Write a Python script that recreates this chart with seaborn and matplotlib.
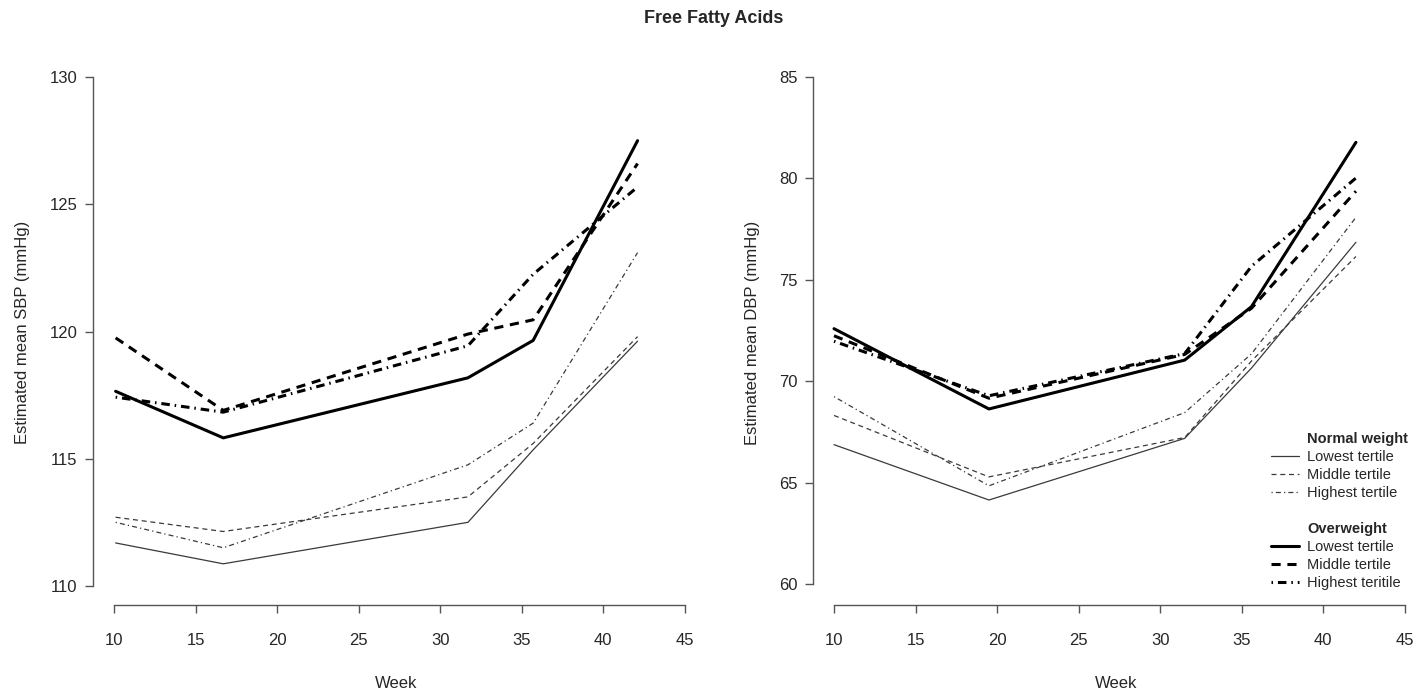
import numpy as np
import pandas as pd
import matplotlib
matplotlib.use("Agg")
import matplotlib.pyplot as plt
import seaborn as sns
from matplotlib.lines import Line2D

# estimated means (two panels: SBP and DBP)
weeks_sbp = [10.1, 16.7, 31.7, 35.7, 42.1]
weeks_dbp = [10.0, 19.5, 31.5, 35.6, 42.0]

sbp_nw_low = [111.69, 110.87, 112.5, 115.35, 119.62]
sbp_nw_mid = [112.7, 112.14, 113.5, 115.6, 119.8]
sbp_nw_high = [112.5, 111.5, 114.76, 116.4, 123.1]
sbp_ow_low = [117.65, 115.82, 118.18, 119.65, 127.5]
sbp_ow_mid = [119.75, 116.9, 119.9, 120.46, 126.6]
sbp_ow_high = [117.42, 116.83, 119.44, 122.25, 125.68]

dbp_nw_low = [66.87, 64.14, 67.18, 70.65, 76.85]
dbp_nw_mid = [68.31, 65.28, 67.22, 71.0, 76.15]
dbp_nw_high = [69.24, 64.84, 68.45, 71.35, 78.08]
dbp_ow_low = [72.59, 68.63, 71.04, 73.68, 81.78]
dbp_ow_mid = [72.24, 69.16, 71.32, 73.6, 79.37]
dbp_ow_high = [71.97, 69.28, 71.36, 75.67, 80.02]

tertile_labels = ['Lowest tertile', 'Middle tertile', 'Highest tertile']
ow_labels = ['Lowest tertile', 'Middle tertile', 'Highest teritile']

sns.set_style("ticks")
plt.rcParams['font.family'] = ['Liberation Sans', 'DejaVu Sans']

axis_col = '#555555'

# line styles: thin = normal weight, thick = overweight
thin = dict(color='#3a3a3a', lw=0.9)
thick = dict(color='black', lw=2.2)
styles = ['-', (0, (4, 3)), (0, (1, 2.5, 4, 2.5))]
thick_styles = ['-', (0, (3, 2.2)), (0, (0.5, 1.6, 2.8, 1.6))]


def draw_panel(ax, weeks, nw, ow, ylabel, ylim, yticks):
    for vals, ls in zip(nw, styles):
        sns.lineplot(x=weeks, y=vals, ax=ax, linestyle=ls, **thin)
    for vals, ls in zip(ow, thick_styles):
        sns.lineplot(x=weeks, y=vals, ax=ax, linestyle=ls, **thick)
    ax.set_xlim(8.71, 45.92)
    ax.set_ylim(*ylim)
    ax.set_xticks([10, 15, 20, 25, 30, 35, 40, 45])
    ax.set_yticks(yticks)
    ax.spines['top'].set_visible(False)
    ax.spines['right'].set_visible(False)
    ax.spines['left'].set_bounds(yticks[0], yticks[-1])
    ax.spines['bottom'].set_bounds(10, 45)
    for s in ['left', 'bottom']:
        ax.spines[s].set_color(axis_col)
        ax.spines[s].set_linewidth(1.0)
    ax.tick_params(axis='both', direction='out', length=6, width=1.0,
                   color=axis_col, labelsize=12, pad=5)
    ax.tick_params(axis='x', pad=14)
    ax.set_xlabel('Week', fontsize=12, labelpad=20)
    ax.set_ylabel(ylabel, fontsize=12, labelpad=14)


fig = plt.figure(figsize=(14.28, 6.94), dpi=100)
ax1 = fig.add_axes([0.0651, 0.1282, 0.425, 0.7853])
ax2 = fig.add_axes([0.5693, 0.1282, 0.425, 0.7853])

draw_panel(ax1, weeks_sbp,
           [sbp_nw_low, sbp_nw_mid, sbp_nw_high],
           [sbp_ow_low, sbp_ow_mid, sbp_ow_high],
           'Estimated mean SBP (mmHg)', (109.25, 130.67),
           [110, 115, 120, 125, 130])
draw_panel(ax2, weeks_dbp,
           [dbp_nw_low, dbp_nw_mid, dbp_nw_high],
           [dbp_ow_low, dbp_ow_mid, dbp_ow_high],
           'Estimated mean DBP (mmHg)', (58.96, 85.84),
           [60, 65, 70, 75, 80, 85])

# grouped legend with bold headers
blank = Line2D([], [], linestyle='none')
handles = [blank]
labels = ['Normal weight']
for ls, lab in zip(styles, tertile_labels):
    handles.append(Line2D([], [], linestyle=ls, **thin))
    labels.append(lab)
handles.append(blank)
labels.append(' ')
handles.append(blank)
labels.append('Overweight')
for ls, lab in zip(thick_styles, ow_labels):
    handles.append(Line2D([], [], linestyle=ls, **thick))
    labels.append(lab)

leg = ax2.legend(handles, labels, loc='lower left', bbox_to_anchor=(0.755, 0.028),
                 frameon=False, fontsize=10.5, handlelength=1.9, handletextpad=0.55,
                 labelspacing=0.27, borderaxespad=0, borderpad=0)
for t in leg.get_texts():
    if t.get_text() in ('Normal weight', 'Overweight'):
        t.set_fontweight('bold')

fig.suptitle('Free Fatty Acids', fontsize=13, fontweight='bold', y=0.985)

fig.savefig('out.png', dpi=100)
